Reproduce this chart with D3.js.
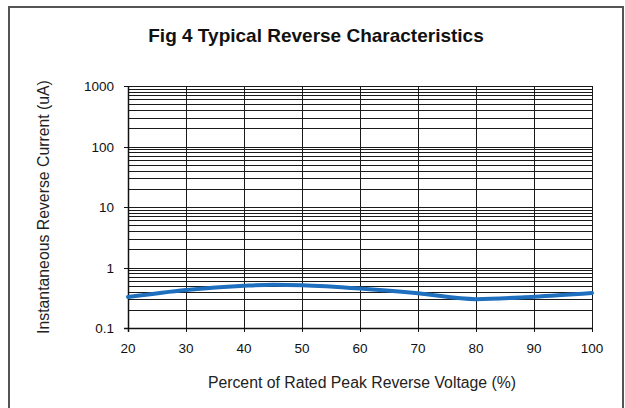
<!DOCTYPE html>
<html><head><meta charset="utf-8">
<script src="https://cdn.jsdelivr.net/npm/d3@7"></script>
<style>html,body{margin:0;padding:0;background:#fff;}svg{display:block;font-family:"Liberation Sans",Arial,sans-serif;}</style>
</head><body><svg id="c" width="625" height="408"></svg>
<script>
const title = "Fig 4 Typical Reverse Characteristics";
const xLabel = "Percent of Rated Peak Reverse Voltage (%)";
const yLabel = "Instantaneous Reverse Current (uA)";
const xTicks = [20,30,40,50,60,70,80,90,100];
const yTicks = [0.1,1,10,100,1000];
const yTickLabels = ["0.1","1","10","100","1000"];
const voltage = [20,30,40,45,50,60,70,80,90,100];
const current = [0.325,0.425,0.50,0.52,0.51,0.45,0.375,0.30,0.33,0.38];

const svg = d3.select("#c");
const m = {l:128, r:592, t:86, b:328};
const x = d3.scaleLinear().domain([20,100]).range([m.l,m.r]);
const y = d3.scaleLog().domain([0.1,1000]).range([m.b,m.t]);

// outer frame
svg.append("rect").attr("x",9).attr("y",7).attr("width",614).attr("height",410)
  .attr("fill","none").attr("stroke","#555").attr("stroke-width",2);

svg.append("text").attr("x",316).attr("y",42).attr("text-anchor","middle")
  .attr("font-weight","bold").attr("font-size",19).attr("fill","#111").text(title);

const g = svg.append("g");
const hLines = [];
for (let d=0; d<4; d++) { const base = 0.1*Math.pow(10,d); for (let k=1;k<=9;k++) hLines.push(base*k); }
hLines.push(1000);
g.selectAll("line.h").data(hLines).join("line")
  .attr("x1",m.l).attr("x2",m.r)
  .attr("y1",d=>Math.round(y(d))+0.5).attr("y2",d=>Math.round(y(d))+0.5)
  .attr("stroke","#1a1a1a").attr("stroke-width",1);
g.selectAll("line.v").data(xTicks).join("line")
  .attr("y1",m.t).attr("y2",m.b)
  .attr("x1",d=>Math.round(x(d))+0.5).attr("x2",d=>Math.round(x(d))+0.5)
  .attr("stroke","#1a1a1a").attr("stroke-width",1);
g.append("line").attr("x1",m.l-4).attr("x2",m.r).attr("y1",m.b+0.5).attr("y2",m.b+0.5).attr("stroke","#111").attr("stroke-width",1.5);
g.append("line").attr("x1",m.l+0.5).attr("x2",m.l+0.5).attr("y1",m.t).attr("y2",m.b+4).attr("stroke","#111").attr("stroke-width",1.5);
g.selectAll("line.yt").data(yTicks).join("line")
  .attr("x1",m.l-4).attr("x2",m.l).attr("y1",d=>Math.round(y(d))+0.5).attr("y2",d=>Math.round(y(d))+0.5)
  .attr("stroke","#111");
g.selectAll("line.xt").data(xTicks).join("line")
  .attr("x1",d=>Math.round(x(d))+0.5).attr("x2",d=>Math.round(x(d))+0.5).attr("y1",m.b).attr("y2",m.b+4)
  .attr("stroke","#111");

g.selectAll("text.yl").data(yTicks).join("text")
  .attr("x",114).attr("y",d=>y(d)+5).attr("text-anchor","end").attr("font-size",13.5).attr("fill","#111")
  .text((d,i)=>yTickLabels[i]);
g.selectAll("text.xl").data(xTicks).join("text")
  .attr("x",d=>x(d)).attr("y",353).attr("text-anchor","middle").attr("font-size",13.5).attr("fill","#111")
  .text(d=>d);

svg.append("text").attr("x",362).attr("y",388).attr("text-anchor","middle").attr("font-size",15.8).attr("fill","#222").text(xLabel);
svg.append("text").attr("transform","translate(49,207) rotate(-90)").attr("text-anchor","middle").attr("font-size",15.8).attr("fill","#222").text(yLabel);

const line = d3.line().x((d,i)=>x(voltage[i])).y(d=>y(d)).curve(d3.curveMonotoneX);
svg.append("path").attr("d",line(current)).attr("fill","none").attr("stroke","#1f6fbf").attr("stroke-width",4).attr("stroke-linecap","round");
</script></body></html>
